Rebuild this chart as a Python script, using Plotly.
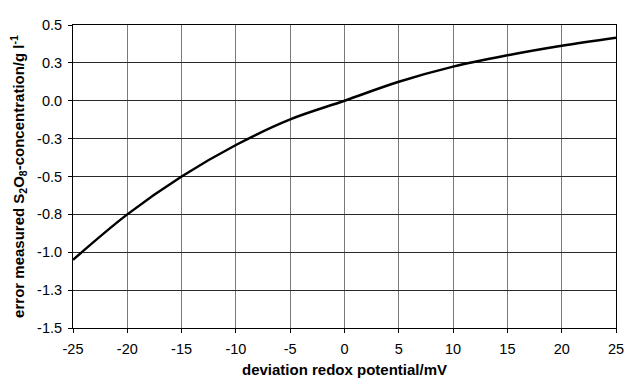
import plotly.graph_objects as go

x_mv = [-25, -20, -15, -10, -5, 0, 5, 10, 15, 20, 25]
y_err = [-1.05, -0.75, -0.50, -0.292, -0.123, 0.0, 0.125, 0.225, 0.300, 0.363, 0.416]

x_ticks = [-25, -20, -15, -10, -5, 0, 5, 10, 15, 20, 25]
y_tickvals = [0.5, 0.25, 0.0, -0.25, -0.5, -0.75, -1.0, -1.25, -1.5]
y_ticktext = ["0.5", "0.3", "0.0", "-0.3", "-0.5", "-0.8", "-1.0", "-1.3", "-1.5"]

fig = go.Figure()
fig.add_trace(go.Scatter(x=x_mv, y=y_err, mode="lines",
                         line=dict(color="black", width=2.5, shape="spline", smoothing=1),
                         showlegend=False))

font = "Liberation Sans, Arial, sans-serif"
# page body has an 8px margin; figure is sized/offset to compensate
fig.update_layout(
    width=625, height=377,
    margin=dict(l=65, r=9, t=11, b=51),
    paper_bgcolor="white", plot_bgcolor="white",
    font=dict(family=font, size=14.5, color="black"),
)
fig.update_xaxes(
    range=[-25, 25], tickvals=x_ticks, ticktext=[str(v) for v in x_ticks],
    showgrid=True, gridcolor="#7a7a7a", gridwidth=1,
    showline=True, linecolor="black", linewidth=1, mirror=True,
    ticks="outside", ticklen=4, tickcolor="black",
    ticklabelstandoff=4, ticklabeloverflow="allow",
    zeroline=False,
    title=dict(text="<b>deviation redox potential/mV</b>", font=dict(size=15, family=font), standoff=8),
)
fig.update_yaxes(
    range=[-1.5, 0.5], tickvals=y_tickvals, ticktext=y_ticktext,
    showgrid=True, gridcolor="#2a2a2a", gridwidth=1,
    showline=True, linecolor="black", linewidth=1, mirror=True,
    ticks="outside", ticklen=4, tickcolor="black",
    ticklabelstandoff=3,
    zeroline=False,
    title=dict(text="<b>error measured S<sub>2</sub>O<sub>8</sub>-concentration/g l<sup>-1</sup></b>",
               font=dict(size=15, family=font), standoff=10),
)

fig.write_html("out.html")
